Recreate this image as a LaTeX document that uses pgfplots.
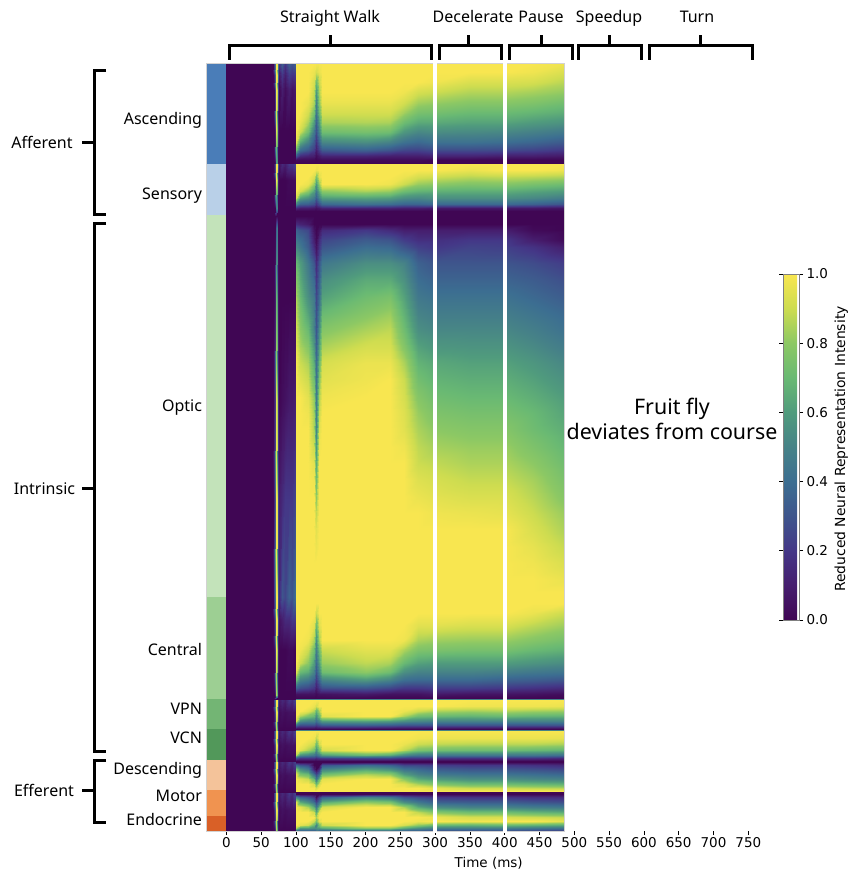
\documentclass[border=0pt]{standalone}
\usepackage{fontspec}
\setmainfont{DejaVu Sans}
\newfontfamily\lab{Noto Sans}
\usepackage{pgfplots}
\pgfplotsset{compat=1.18}
\definecolor{cAsc}{HTML}{4A7DB8}
\definecolor{cSen}{HTML}{B9D0E8}
\definecolor{cOpt}{HTML}{C3E3BA}
\definecolor{cCen}{HTML}{9DCF93}
\definecolor{cVpn}{HTML}{73B574}
\definecolor{cVcn}{HTML}{52985A}
\definecolor{cDes}{HTML}{F4C39A}
\definecolor{cMot}{HTML}{F09350}
\definecolor{cEnd}{HTML}{D96027}
% column and row positions of the two grids
\def\Lx#1{\ifcase\numexpr#1\relax 0\or 67\or 68\or 70\or 71\or 73\or 74\or 75\or 80\or 85\or 90\or 95\or 98.5\or 99.5\fi}
\def\Ly#1{\ifcase\numexpr#1\relax 63\or 75\or 90\or 130\or 162.5\or 163.5\or 180\or 208\or 216\or 228\or 300\or 400\or 500\or 597\or 620\or 650\or 695\or 698.5\or 699.5\or 712\or 729.5\or 730.5\or 745\or 760.5\or 761.5\or 775\or 791.5\or 792.5\or 810\or 831\fi}
\def\Rx#1{\ifcase\numexpr#1\relax 99.5\or 106\or 118\or 126\or 129.5\or 133\or 137\or 200\or 235\or 255\or 275\or 300\or 350\or 400\or 440\or 486\fi}
\def\Ry#1{\ifcase\numexpr#1\relax 63\or 72\or 82\or 92\or 102\or 112\or 122\or 132\or 142\or 150\or 156\or 160\or 162.5\or 163.5\or 170\or 177\or 184\or 191\or 198\or 204\or 208\or 211\or 216\or 224\or 230\or 240\or 247\or 263\or 280\or 297\or 313\or 330\or 347\or 363\or 380\or 397\or 413\or 430\or 447\or 463\or 480\or 497\or 513\or 530\or 547\or 563\or 580\or 592\or 603\or 613\or 625\or 640\or 650\or 663\or 672\or 680\or 688\or 694\or 698\or 699.5\or 706\or 711\or 716\or 721\or 725\or 729\or 731\or 738\or 744\or 750\or 755\or 758\or 760.5\or 762\or 765\or 769\or 774\or 779\or 784\or 788\or 791\or 792\or 794\or 797\or 802\or 807\or 812\or 817\or 821\or 825\or 828\or 831\fi}
\begin{document}
\begin{tikzpicture}
\path[use as bounding box] (0,0) rectangle (852pt,871pt);
\begin{axis}[
  at={(206pt,40pt)},anchor=south west,scale only axis,
  width=542.3pt,height=768pt,
  xmin=-29.2,xmax=750,ymin=63,ymax=831,y dir=reverse,
  axis line style={draw=none},
  xtick={0,50,...,750},ytick=\empty,
  tick align=outside,major tick length=4pt,
  tick style={black,line width=.7pt},xtick pos=bottom,
  /pgf/number format/assume math mode=true,
  tick label style={font=\fontsize{13.5}{15}\selectfont},
  xticklabel style={yshift=1.5pt},
  xlabel={Time (ms)},
  xlabel style={font=\fontsize{13.5}{15}\selectfont,at={(axis cs:377,831)},anchor=north,yshift=-23pt},
  colormap={fly}{rgb255=(64,6,84) rgb255=(70,30,110) rgb255=(68,55,135) rgb255=(62,85,140) rgb255=(60,110,145) rgb255=(70,130,135) rgb255=(80,155,125) rgb255=(105,185,115) rgb255=(140,200,100) rgb255=(205,220,80) rgb255=(248,230,80)},
  point meta min=0,point meta max=1,
  colorbar,
  colorbar style={
    at={(1.064,0.2747)},anchor=south west,
    width=16pt,height=346pt,
    ytick={0,0.2,0.4,0.6,0.8,1},
    yticklabel style={font=\fontsize{13.5}{15}\selectfont,/pgf/number format/fixed,/pgf/number format/fixed zerofill,/pgf/number format/precision=1},
    /pgf/number format/assume math mode=true,
    tick align=outside,major tick length=4pt,
    axis line style={draw=gray,line width=.8pt},
  },
  clip=false,
]
\fill[cAsc] (axis cs:-29.2,63) rectangle (axis cs:0,164);
\fill[cSen] (axis cs:-29.2,164) rectangle (axis cs:0,215);
\fill[cOpt] (axis cs:-29.2,215) rectangle (axis cs:0,597);
\fill[cCen] (axis cs:-29.2,597) rectangle (axis cs:0,699);
\fill[cVpn] (axis cs:-29.2,699) rectangle (axis cs:0,729);
\fill[cVcn] (axis cs:-29.2,729) rectangle (axis cs:0,760);
\fill[cDes] (axis cs:-29.2,760) rectangle (axis cs:0,790);
\fill[cMot] (axis cs:-29.2,790) rectangle (axis cs:0,816);
\fill[cEnd] (axis cs:-29.2,816) rectangle (axis cs:0,831);
\addplot[surf,shader=interp,mesh/cols=14,point meta=explicit] table[row sep=crcr,meta=m,x expr={\Lx{\coordindex-14*((2*\coordindex-13)/28)}},y expr={\Ly{(2*\coordindex-13)/28}}]{m\\
0\\0\\.2\\.45\\1\\1\\.45\\.2\\.35\\.2\\.35\\.3\\.35\\.35\\
0\\0\\.1\\.35\\1\\.95\\.4\\.08\\.2\\.1\\.22\\.18\\.2\\.2\\
0\\0\\0\\.25\\1\\.9\\.25\\0\\.1\\.03\\.1\\.05\\.08\\.08\\
0\\0\\0\\.12\\.95\\.8\\.12\\0\\0\\0\\0\\0\\0\\0\\
0\\0\\0\\.02\\.6\\.6\\.02\\0\\0\\0\\0\\0\\0\\0\\
0\\0\\.08\\.3\\1\\1\\.3\\.05\\.15\\.1\\.2\\.2\\.25\\.25\\
0\\0\\0\\.15\\1\\.85\\.1\\0\\0\\0\\.02\\.02\\.03\\.03\\
0\\0\\0\\0\\.45\\.5\\0\\0\\0\\0\\0\\0\\0\\0\\
0\\0\\0\\0\\0\\0\\0\\0\\0\\0\\0\\0\\0\\0\\
0\\0\\0\\0\\.35\\.45\\0\\0\\0\\0\\0\\0\\0\\0\\
0\\0\\.02\\.1\\.7\\.6\\.05\\0\\0\\0\\0\\0\\0\\0\\
0\\0\\.1\\.2\\.95\\.85\\.15\\0\\.03\\.05\\.08\\.08\\.1\\.1\\
0\\0\\.12\\.3\\1\\.95\\.25\\.1\\.15\\.2\\.2\\.2\\.25\\.25\\
0\\0\\.2\\.4\\1\\1\\.3\\.15\\.3\\.25\\.35\\.3\\.4\\.4\\
0\\0\\.1\\.3\\1\\.95\\.25\\.05\\.1\\.15\\.15\\.2\\.2\\.2\\
0\\0\\.03\\.2\\1\\.85\\.1\\0\\0\\0\\.02\\.02\\0\\0\\
0\\0\\0\\.1\\.85\\.7\\.05\\0\\0\\0\\0\\0\\0\\0\\
0\\0\\0\\0\\0\\0\\0\\0\\0\\0\\0\\0\\0\\0\\
0\\0\\.2\\.45\\1\\1\\.3\\.08\\.15\\.1\\.2\\.15\\.25\\.25\\
0\\0\\.1\\.3\\1\\.95\\.2\\.02\\.05\\.03\\.05\\.05\\.05\\.05\\
0\\0\\0\\.1\\.85\\.7\\.05\\0\\0\\0\\0\\0\\0\\0\\
0\\0\\.2\\.45\\1\\1\\.3\\.08\\.15\\.1\\.2\\.15\\.25\\.25\\
0\\0\\.1\\.3\\1\\.95\\.2\\.02\\.05\\.03\\.05\\.05\\.05\\.05\\
0\\0\\0\\.1\\.85\\.7\\.05\\0\\0\\0\\0\\0\\0\\0\\
0\\0\\.2\\.45\\1\\1\\.3\\.08\\.15\\.1\\.2\\.15\\.25\\.25\\
0\\0\\.1\\.3\\1\\.95\\.2\\.02\\.05\\.03\\.05\\.05\\.05\\.05\\
0\\0\\0\\.1\\.85\\.7\\.05\\0\\0\\0\\0\\0\\0\\0\\
0\\0\\.2\\.45\\1\\1\\.3\\.08\\.15\\.1\\.2\\.15\\.25\\.25\\
0\\0\\.1\\.3\\1\\.95\\.2\\.02\\.05\\.03\\.05\\.05\\.05\\.05\\
0\\0\\0\\.1\\.85\\.7\\.05\\0\\0\\0\\0\\0\\0\\0\\
};
\addplot[surf,shader=interp,mesh/cols=16,point meta=explicit] table[row sep=crcr,meta=m,x expr={\Rx{\coordindex-16*((2*\coordindex-15)/32)}},y expr={\Ry{(2*\coordindex-15)/32}}]{m\\
1\\1\\1\\1\\1\\1\\1\\1\\1\\1\\1\\1\\1\\1\\1\\.98\\
1\\1\\1\\.97\\.92\\.97\\1\\1\\1\\1\\1\\1\\1\\1\\.98\\.93\\
1\\1\\1\\.92\\.72\\.9\\1\\1\\1\\1\\1\\.98\\.93\\.93\\.92\\.87\\
1\\1\\1\\.88\\.58\\.85\\1\\1\\1\\.98\\.92\\.9\\.86\\.86\\.84\\.81\\
1\\1\\.97\\.85\\.5\\.8\\.97\\.97\\.97\\.92\\.84\\.82\\.79\\.79\\.77\\.73\\
1\\1\\.92\\.75\\.45\\.72\\.92\\.92\\.92\\.84\\.75\\.74\\.71\\.71\\.69\\.66\\
1\\.97\\.85\\.6\\.35\\.6\\.85\\.86\\.85\\.72\\.65\\.65\\.63\\.63\\.6\\.57\\
1\\.9\\.72\\.45\\.28\\.5\\.72\\.74\\.72\\.58\\.52\\.54\\.53\\.52\\.49\\.45\\
.95\\.65\\.5\\.32\\.18\\.35\\.52\\.55\\.5\\.42\\.38\\.42\\.42\\.4\\.37\\.32\\
.7\\.4\\.32\\.22\\.1\\.22\\.32\\.35\\.3\\.25\\.24\\.27\\.27\\.26\\.24\\.2\\
.3\\.15\\.12\\.1\\.03\\.08\\.12\\.12\\.1\\.1\\.1\\.12\\.12\\.1\\.1\\.08\\
.03\\.02\\.02\\.01\\0\\.01\\.02\\.02\\.02\\.02\\.02\\0\\0\\0\\0\\0\\
0\\0\\0\\0\\0\\0\\0\\0\\0\\0\\0\\0\\0\\0\\0\\0\\
1\\1\\1\\1\\1\\1\\1\\1\\1\\1\\1\\1\\1\\1\\1\\1\\
1\\1\\1\\1\\.97\\1\\1\\1\\1\\1\\1\\1\\.97\\1\\1\\.98\\
1\\1\\1\\.93\\.75\\.95\\1\\1\\1\\.97\\.92\\.9\\.87\\.88\\.87\\.85\\
1\\1\\.97\\.82\\.58\\.82\\1\\1\\.98\\.9\\.82\\.8\\.77\\.78\\.75\\.72\\
1\\.92\\.8\\.62\\.45\\.65\\.8\\.85\\.82\\.72\\.68\\.67\\.66\\.66\\.63\\.6\\
.9\\.62\\.55\\.45\\.32\\.48\\.6\\.62\\.6\\.54\\.52\\.55\\.55\\.55\\.52\\.47\\
.5\\.35\\.33\\.28\\.18\\.28\\.38\\.42\\.4\\.36\\.36\\.38\\.38\\.38\\.35\\.3\\
.15\\.1\\.1\\.08\\.05\\.08\\.12\\.12\\.12\\.1\\.1\\.08\\.08\\.08\\.08\\.06\\
0\\0\\0\\0\\0\\0\\0\\0\\0\\0\\0\\0\\0\\0\\0\\0\\
0\\0\\0\\0\\0\\0\\0\\0\\0\\0\\0\\0\\0\\0\\0\\0\\
.15\\.12\\.08\\0\\0\\0\\0\\0\\0\\0\\0\\0\\0\\0\\0\\0\\
.35\\.3\\.25\\.05\\0\\.05\\.15\\.2\\.15\\.1\\.1\\.1\\.1\\.1\\.02\\0\\
.45\\.4\\.3\\.1\\.02\\.15\\.25\\.33\\.3\\.22\\.17\\.17\\.2\\.2\\.1\\.02\\
.52\\.45\\.33\\.15\\.05\\.18\\.3\\.4\\.38\\.3\\.23\\.2\\.24\\.23\\.18\\.1\\
.7\\.6\\.45\\.3\\.15\\.3\\.45\\.55\\.55\\.5\\.35\\.3\\.3\\.3\\.27\\.22\\
.78\\.65\\.5\\.38\\.2\\.35\\.55\\.65\\.65\\.56\\.4\\.36\\.36\\.36\\.33\\.28\\
.85\\.7\\.55\\.45\\.25\\.4\\.62\\.72\\.75\\.62\\.45\\.42\\.42\\.42\\.38\\.33\\
.88\\.75\\.62\\.48\\.28\\.48\\.7\\.78\\.82\\.67\\.5\\.47\\.47\\.47\\.43\\.38\\
.92\\.8\\.7\\.5\\.3\\.55\\.78\\.85\\.88\\.72\\.55\\.52\\.52\\.52\\.48\\.42\\
.96\\.85\\.78\\.58\\.35\\.62\\.85\\.92\\.92\\.78\\.62\\.58\\.57\\.57\\.53\\.47\\
1\\.9\\.85\\.65\\.4\\.7\\.92\\.97\\.97\\.85\\.68\\.64\\.62\\.62\\.58\\.52\\
1\\.95\\.9\\.72\\.42\\.78\\.95\\.98\\1\\.9\\.73\\.68\\.66\\.66\\.62\\.56\\
1\\1\\.95\\.8\\.45\\.85\\.98\\1\\1\\.92\\.78\\.72\\.7\\.7\\.66\\.6\\
1\\1\\.98\\.83\\.48\\.9\\1\\1\\1\\.94\\.82\\.76\\.74\\.74\\.7\\.63\\
1\\1\\1\\.85\\.5\\.95\\1\\1\\1\\.95\\.85\\.8\\.78\\.78\\.72\\.66\\
1\\1\\1\\.9\\.58\\.98\\1\\1\\1\\.98\\.88\\.84\\.82\\.82\\.76\\.69\\
1\\1\\1\\.95\\.65\\1\\1\\1\\1\\1\\.9\\.88\\.85\\.85\\.8\\.72\\
1\\1\\1\\.98\\.72\\1\\1\\1\\1\\1\\.94\\.92\\.89\\.89\\.84\\.75\\
1\\1\\1\\1\\.8\\1\\1\\1\\1\\1\\.97\\.95\\.93\\.93\\.87\\.78\\
1\\1\\1\\1\\.88\\1\\1\\1\\1\\1\\1\\.98\\.97\\.96\\.9\\.82\\
1\\1\\1\\1\\.95\\1\\1\\1\\1\\1\\1\\1\\1\\1\\.93\\.85\\
1\\1\\1\\1\\.97\\1\\1\\1\\1\\1\\1\\1\\1\\1\\.96\\.89\\
1\\1\\1\\1\\1\\1\\1\\1\\1\\1\\1\\1\\1\\1\\.98\\.93\\
1\\1\\1\\1\\1\\1\\1\\1\\1\\1\\1\\1\\1\\1\\1\\.97\\
1\\1\\1\\1\\1\\1\\1\\1\\1\\1\\1\\1\\1\\1\\1\\1\\
1\\1\\1\\1\\1\\1\\1\\1\\1\\1\\1\\1\\1\\1\\1\\1\\
1\\1\\1\\1\\.9\\1\\1\\1\\1\\1\\1\\1\\1\\1\\.97\\.9\\
1\\1\\1\\.95\\.72\\.95\\1\\1\\1\\1\\.95\\.95\\.93\\.93\\.88\\.83\\
1\\1\\.98\\.85\\.55\\.85\\1\\1\\1\\.98\\.85\\.83\\.82\\.82\\.78\\.74\\
1\\.98\\.9\\.72\\.48\\.72\\.9\\.95\\.95\\.85\\.76\\.75\\.74\\.74\\.7\\.67\\
1\\.9\\.8\\.6\\.38\\.6\\.82\\.88\\.85\\.7\\.62\\.6\\.6\\.6\\.57\\.54\\
.95\\.7\\.65\\.5\\.3\\.5\\.72\\.8\\.72\\.55\\.5\\.5\\.5\\.48\\.45\\.43\\
.7\\.5\\.45\\.35\\.2\\.35\\.5\\.58\\.5\\.4\\.38\\.38\\.38\\.35\\.33\\.3\\
.35\\.28\\.25\\.2\\.1\\.2\\.28\\.3\\.25\\.2\\.2\\.22\\.22\\.2\\.18\\.15\\
.05\\.05\\.05\\.05\\.02\\.05\\.05\\.08\\.05\\.05\\.05\\.08\\.06\\.06\\.05\\.03\\
0\\0\\0\\0\\0\\0\\0\\0\\0\\0\\0\\0\\0\\0\\0\\0\\
1\\1\\1\\1\\1\\1\\1\\1\\1\\1\\1\\1\\1\\1\\1\\1\\
1\\1\\1\\.97\\.92\\1\\1\\1\\1\\1\\1\\1\\.98\\.98\\.98\\.97\\
1\\1\\.95\\.85\\.68\\.85\\1\\1\\1\\.97\\.9\\.85\\.83\\.85\\.83\\.82\\
1\\.85\\.75\\.7\\.55\\.72\\.95\\1\\1\\.85\\.72\\.7\\.68\\.7\\.68\\.67\\
.9\\.55\\.5\\.5\\.4\\.5\\.6\\.62\\.6\\.55\\.52\\.5\\.5\\.5\\.5\\.5\\
.4\\.28\\.28\\.28\\.22\\.28\\.33\\.35\\.33\\.3\\.3\\.3\\.3\\.3\\.3\\.3\\
0\\0\\0\\0\\0\\0\\0\\0\\0\\0\\0\\0\\0\\0\\0\\0\\
1\\1\\1\\1\\1\\1\\1\\1\\1\\1\\1\\1\\1\\1\\1\\1\\
1\\1\\1\\.98\\.88\\1\\1\\1\\1\\1\\.98\\.97\\.97\\.97\\.97\\.96\\
1\\1\\.95\\.9\\.72\\.92\\1\\1\\1\\.97\\.9\\.88\\.87\\.87\\.87\\.85\\
1\\.95\\.85\\.75\\.55\\.75\\.93\\1\\1\\.88\\.76\\.73\\.72\\.72\\.7\\.68\\
.85\\.55\\.5\\.45\\.38\\.48\\.6\\.7\\.65\\.52\\.45\\.45\\.45\\.45\\.45\\.42\\
.3\\.2\\.2\\.2\\.15\\.2\\.22\\.25\\.25\\.2\\.2\\.18\\.18\\.18\\.18\\.15\\
0\\0\\0\\0\\0\\0\\0\\0\\0\\0\\0\\0\\0\\0\\0\\0\\
0\\0\\0\\0\\0\\0\\0\\0\\0\\0\\0\\0\\0\\0\\0\\0\\
.4\\.3\\.25\\0\\0\\0\\.3\\.4\\.35\\.25\\.25\\.22\\.2\\.2\\.18\\.15\\
.75\\.55\\.45\\.1\\0\\.15\\.5\\.62\\.55\\.42\\.38\\.33\\.3\\.3\\.28\\.25\\
.95\\.75\\.7\\.4\\.25\\.4\\.72\\.85\\.8\\.6\\.5\\.45\\.42\\.42\\.4\\.37\\
1\\.95\\.9\\.7\\.45\\.7\\.95\\1\\1\\.8\\.65\\.6\\.55\\.55\\.52\\.5\\
1\\1\\1\\.92\\.72\\.92\\1\\1\\1\\.95\\.85\\.78\\.72\\.72\\.7\\.68\\
1\\1\\1\\1\\.92\\1\\1\\1\\1\\1\\1\\.95\\.9\\.9\\.88\\.87\\
1\\1\\1\\1\\1\\1\\1\\1\\1\\1\\1\\1\\1\\1\\1\\1\\
0\\0\\0\\0\\0\\0\\0\\0\\0\\0\\0\\0\\0\\0\\0\\0\\
0\\0\\0\\0\\0\\0\\0\\0\\0\\0\\0\\0\\0\\0\\0\\0\\
.5\\.35\\.3\\.2\\.03\\.2\\.35\\.5\\.45\\.3\\.25\\.2\\.18\\.18\\.16\\.15\\
.95\\.65\\.55\\.4\\.25\\.42\\.65\\.8\\.75\\.55\\.45\\.35\\.33\\.33\\.3\\.28\\
1\\.95\\.85\\.65\\.45\\.7\\.92\\1\\1\\.85\\.65\\.55\\.5\\.5\\.47\\.45\\
1\\1\\1\\.9\\.65\\.95\\1\\1\\1\\1\\.88\\.78\\.72\\.72\\.68\\.65\\
1\\1\\1\\1\\.85\\1\\1\\1\\1\\1\\1\\.97\\.92\\.92\\.9\\.88\\
1\\1\\1\\.9\\.75\\.95\\1\\1\\1\\1\\.98\\1\\.98\\1\\1\\.95\\
1\\.95\\.9\\.7\\.5\\.75\\.9\\1\\1\\.92\\.8\\.7\\.68\\.7\\.68\\.65\\
.85\\.6\\.6\\.55\\.55\\.6\\.65\\.8\\.8\\.65\\.55\\.48\\.48\\.48\\.45\\.42\\
.35\\.3\\.3\\.3\\.4\\.3\\.3\\.35\\.35\\.3\\.3\\.25\\.25\\.25\\.22\\.2\\
};
\draw[gray!35,line width=.6pt] (axis cs:-29.2,63) rectangle (axis cs:486,831);
\fill[white] (axis cs:297.5,55) rectangle (axis cs:302.8,833);
\fill[white] (axis cs:398,55) rectangle (axis cs:403,833);
\end{axis}
\begin{scope}[x=1pt,y=-1pt,shift={(0,871pt)},line width=3pt,line cap=butt,line join=miter]
\draw (229,60)--(229,46)--(431,46)--(431,60) (330,46)--(330,35);
\draw (439,60)--(439,46)--(501,46)--(501,60) (468,46)--(468,35);
\draw (509,60)--(509,46)--(572,46)--(572,60) (541,46)--(541,35);
\draw (578,60)--(578,46)--(641,46)--(641,60) (609,46)--(609,35);
\draw (649,60)--(649,46)--(752,46)--(752,60) (700,46)--(700,35);
\draw (106,71)--(94,71)--(94,215)--(106,215) (94,143)--(82,143);
\draw (106,224)--(94,224)--(94,752)--(106,752) (94,489)--(82,489);
\draw (106,761)--(94,761)--(94,823)--(106,823) (94,791)--(82,791);
\tikzset{every node/.style={font=\lab\fontsize{16}{18}\selectfont,inner sep=0pt,outer sep=0pt,text height=12pt,text depth=4pt}}
\node at (330,18.5) {Straight Walk};
\node at (473,18.5) {Decelerate};
\node at (541,18.5) {Pause};
\node at (609,18.5) {Speedup};
\node at (697,18.5) {Turn};
\node at (42,144.5) {Afferent};
\node at (44.5,490.5) {Intrinsic};
\node at (44,792.5) {Efferent};
\node[anchor=east] at (202,120.5) {Ascending};
\node[anchor=east] at (202,195.5) {Sensory};
\node[anchor=east] at (202,407.5) {Optic};
\node[anchor=east] at (202,651.5) {Central};
\node[anchor=east] at (202,710.5) {VPN};
\node[anchor=east] at (202,739.5) {VCN};
\node[anchor=east] at (202,770.5) {Descending};
\node[anchor=east] at (202,797.5) {Motor};
\node[anchor=east] at (202,821.5) {Endocrine};
\node[font=\lab\fontsize{21.4}{24}\selectfont] at (672,411) {Fruit fly};
\node[font=\lab\fontsize{21.4}{24}\selectfont] at (672,436) {deviates from course};
\node[rotate=90,font=\fontsize{13.9}{15}\selectfont] at (841,449) {Reduced Neural Representation Intensity};
\end{scope}
\end{tikzpicture}
\end{document}
